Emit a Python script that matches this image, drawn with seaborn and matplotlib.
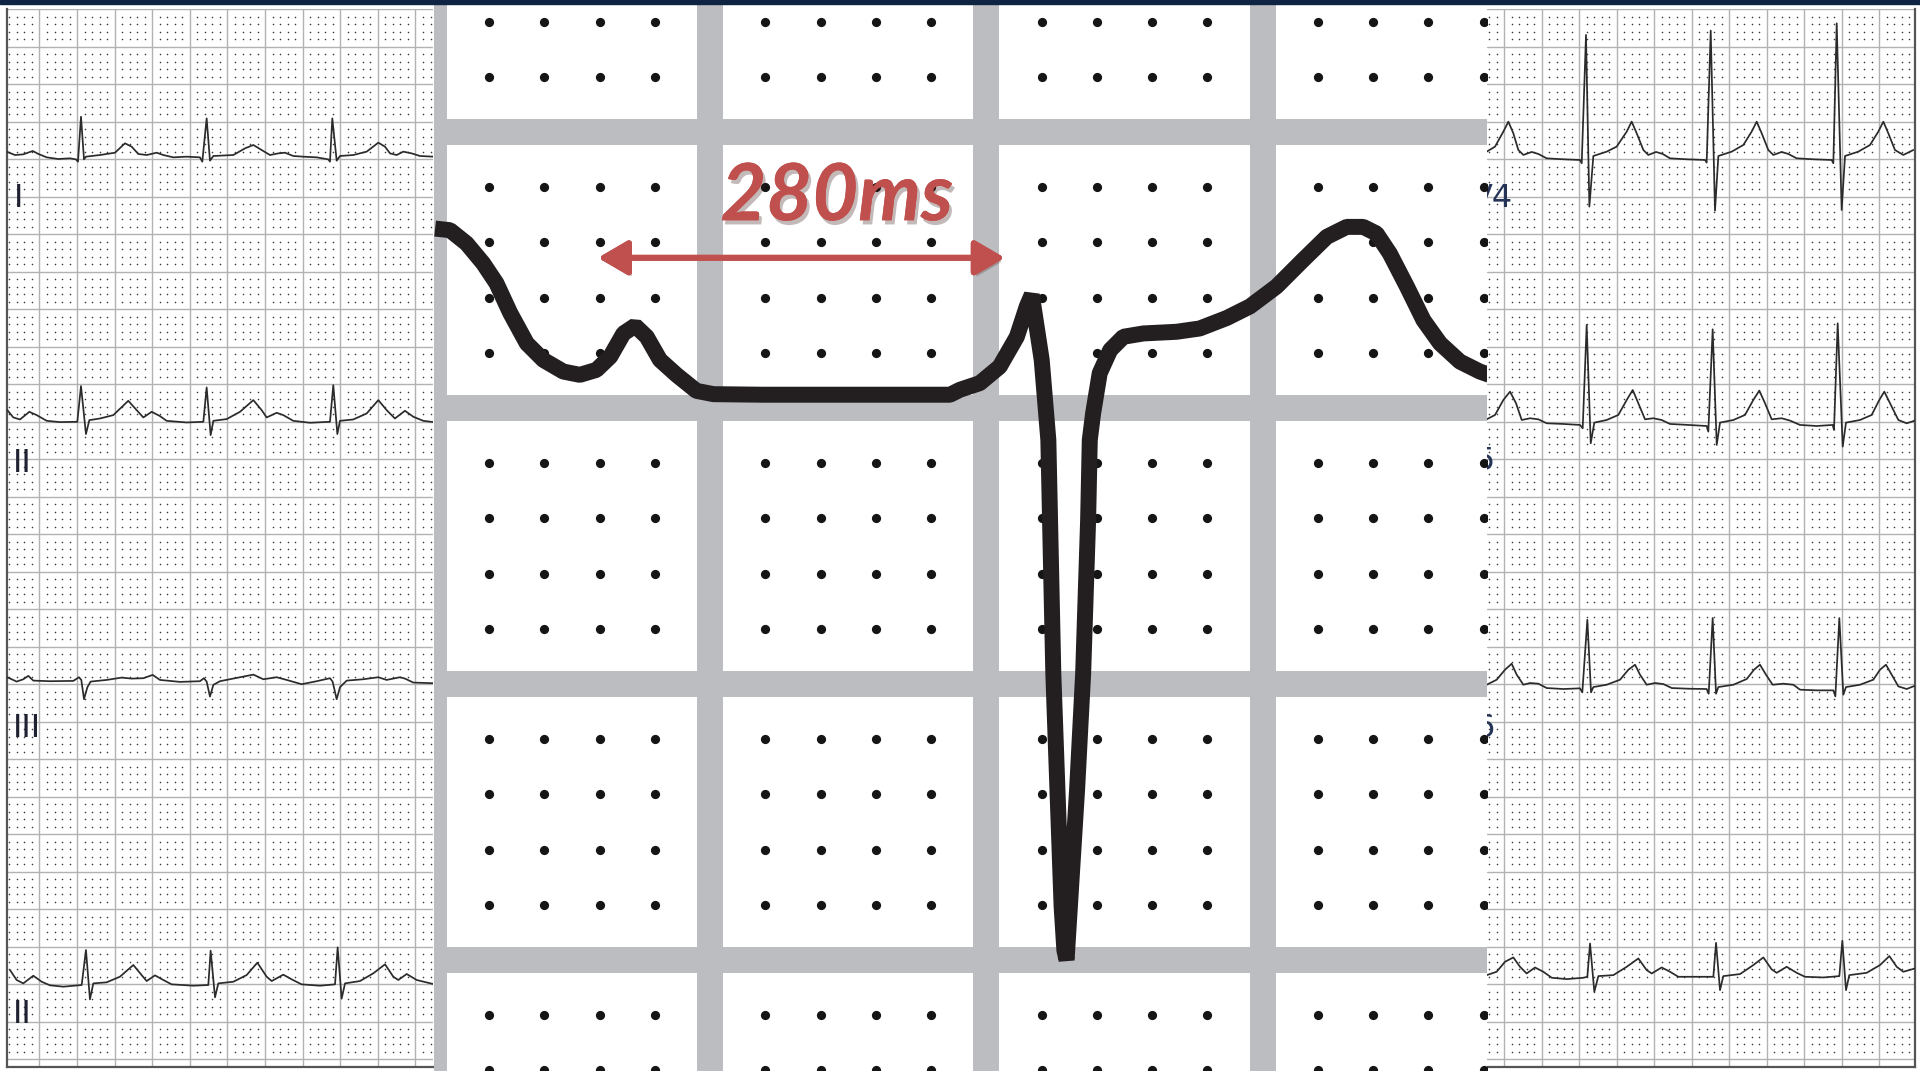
import numpy as np
import matplotlib.pyplot as plt
import matplotlib.patheffects as pe
from matplotlib.patches import Rectangle
import seaborn as sns

sns.set_style("white")
plt.rcParams["font.family"] = ["DejaVu Sans"]

# ---- traces: (time in mm, amplitude in mm above baseline) ----
lead_I = [(0.63, 0.67), (1.74, 0.22), (2.85, 0.31), (4.1, 0.76), (4.85, 0.36), (5.96, -0.09),
          (7.5, -0.31), (9.06, -0.22), (9.85, -0.36), (10.12, -0.67), (10.52, 5.33), (10.92, -0.36),
          (11.18, 0.0), (13.04, 0.22), (15.04, 0.53), (16.37, 1.78), (17.26, 1.33), (18.14, 0.36),
          (19.25, 0.22), (20.58, 0.53), (21.47, 0.22), (22.8, -0.09), (24.57, 0.0), (26.34, -0.09),
          (26.65, -0.67), (27.23, 5.11), (27.67, -0.53), (28.12, 0.09), (30.78, 0.22), (32.33, 1.11),
          (33.44, 1.56), (34.54, 0.89), (35.65, 0.22), (36.76, 0.44), (37.64, 0.53), (38.75, 0.09),
          (40.08, 0.0), (41.86, -0.09), (43.41, -0.36), (43.63, -0.67), (43.94, 5.11), (44.52, -0.53),
          (44.96, 0.09), (46.73, 0.22), (48.51, 0.67), (50.06, 1.87), (50.95, 1.33), (51.61, 0.44),
          (52.5, 0.22), (53.38, 0.67), (54.49, 0.44), (55.6, 0.09), (57.37, 0.0)]
lead_II = [(0.72, 1.56), (1.52, 0.58), (2.41, 0.31), (3.65, 1.33), (4.63, 0.89), (5.96, 0.13),
           (7.73, -0.04), (10.03, 0.0), (10.52, 4.76), (11.18, -1.64), (11.63, 0.22), (13.04, 0.44),
           (14.82, 0.89), (16.81, 2.8), (17.92, 1.56), (18.81, 0.58), (19.92, 1.33), (21.02, 0.76),
           (21.91, 0.13), (24.57, -0.09), (26.79, 0.0), (27.23, 4.58), (27.76, -1.78), (28.12, 0.13),
           (29.89, 0.36), (31.66, 1.33), (33.44, 2.89), (34.54, 1.56), (35.21, 0.58), (36.54, 1.2),
           (37.42, 0.89), (38.75, 0.13), (40.97, -0.13), (43.63, 0.0), (44.07, 4.89), (44.61, -1.64),
           (44.96, 0.13), (46.73, 0.31), (48.51, 1.11), (50.06, 2.89), (51.16, 1.56), (52.27, 0.44),
           (53.6, 1.47), (54.71, 0.67), (56.04, 0.13), (57.37, -0.04)]
lead_III = [(0.72, 0.49), (1.96, -0.09), (2.85, 0.22), (3.51, 0.67), (4.18, 0.04), (6.4, -0.04),
            (9.5, 0.0), (10.25, 0.49), (10.56, 0.13), (10.92, -2.44), (11.37, -0.84), (11.8, -0.09),
            (13.93, 0.13), (15.92, 0.44), (17.26, 0.31), (18.81, 0.36), (20.05, 0.8), (21.02, 0.13),
            (23.68, -0.13), (26.34, -0.04), (26.87, 0.36), (27.23, -0.09), (27.67, -2.09), (28.12, -0.53),
            (29.0, -0.04), (31.66, 0.49), (33.44, 0.84), (34.77, 0.22), (36.54, 0.49), (37.87, 0.13),
            (39.86, -0.44), (41.86, -0.04), (43.63, 0.36), (43.98, -0.09), (44.52, -2.44), (44.96, -0.84),
            (45.85, 0.04), (48.06, 0.22), (50.06, 0.49), (51.16, 0.13), (52.94, 0.49), (53.6, 0.31),
            (54.71, -0.22), (57.37, -0.31)]
lead_II_rhythm = [(1.08, 2.0), (1.96, 0.67), (2.85, 0.22), (4.18, 1.24), (5.29, 0.44), (6.4, -0.04),
                  (8.17, -0.22), (10.61, 0.0), (11.18, 4.67), (11.71, -1.91), (12.16, 0.22), (13.93, 0.36),
                  (15.7, 1.11), (17.48, 2.67), (18.58, 1.33), (19.25, 0.53), (20.36, 1.29), (21.47, 0.67),
                  (22.57, 0.09), (25.46, -0.09), (27.45, 0.0), (27.76, 4.58), (28.34, -1.64), (28.78, 0.22),
                  (30.78, 0.44), (32.55, 1.33), (33.97, 2.98), (35.21, 1.11), (35.88, 0.53), (37.42, 1.38),
                  (38.53, 0.76), (39.86, 0.09), (42.3, -0.09), (44.3, 0.09), (44.65, 5.02), (45.18, -1.82),
                  (45.63, 0.22), (47.62, 0.53), (49.39, 1.56), (50.95, 2.76), (52.05, 1.11), (52.72, 0.67),
                  (53.83, 1.47), (55.16, 0.67), (57.37, 0.13)]

lead_V4 = [(2.69, 1.02), (3.8, 1.69), (4.91, 3.69), (5.58, 5.02), (6.24, 3.47), (6.91, 1.24), (7.58, 0.58),
           (8.69, 0.98), (9.58, 0.71), (10.69, 0.13), (12.91, 0.0), (15.13, -0.09), (15.36, -0.53),
           (15.93, 16.58), (16.38, -6.31), (16.91, 0.44), (18.69, 1.02), (20.02, 1.69), (21.36, 3.69),
           (22.02, 5.02), (22.69, 3.47), (23.58, 1.24), (24.24, 0.58), (25.27, 0.98), (26.16, 0.71),
           (27.13, 0.13), (29.36, 0.0), (31.8, -0.09), (32.02, -0.44), (32.56, 17.16), (33.13, -6.84),
           (33.58, 0.44), (35.36, 1.02), (36.91, 1.91), (38.02, 3.69), (38.69, 5.02), (39.36, 3.47),
           (40.24, 1.24), (40.91, 0.58), (42.02, 0.98), (42.91, 0.71), (44.02, 0.13), (46.24, 0.0),
           (48.69, -0.09), (48.91, -0.53), (49.36, 18.13), (50.02, -6.76), (50.47, 0.44), (52.24, 1.02),
           (53.8, 1.91), (54.91, 3.69), (55.58, 5.02), (56.24, 3.47), (57.13, 1.24), (58.24, 0.58),
           (59.58, 1.24)]
lead_V5 = [(2.69, 0.53), (3.8, 1.11), (4.91, 3.11), (5.8, 4.22), (6.6, 2.67), (7.36, 0.44), (8.47, 0.67),
           (9.58, 0.53), (10.69, 0.0), (12.91, -0.09), (15.13, -0.22), (15.49, -0.67), (16.02, 13.11),
           (16.56, -2.67), (17.04, 0.09), (18.69, 0.44), (20.24, 1.11), (21.36, 3.11), (22.16, 4.44),
           (22.91, 2.67), (23.8, 0.53), (24.91, 0.67), (26.02, 0.44), (27.13, -0.09), (29.58, -0.22),
           (32.02, -0.36), (32.24, -1.11), (32.82, 12.53), (33.36, -2.89), (33.8, 0.09), (35.58, 0.44),
           (37.13, 1.11), (38.24, 3.11), (39.04, 4.36), (39.8, 2.67), (40.69, 0.53), (42.02, 0.67),
           (43.13, 0.36), (44.47, -0.22), (46.69, -0.36), (48.82, -0.22), (49.0, -0.89), (49.49, 13.33),
           (50.16, -3.11), (50.6, 0.09), (52.47, 0.44), (54.02, 1.11), (55.04, 3.11), (55.71, 4.22),
           (56.47, 2.67), (57.58, 0.44), (58.69, 0.0), (59.8, 0.36)]
lead_V6 = [(2.69, 0.44), (4.02, 1.11), (5.13, 2.44), (6.02, 3.24), (6.69, 1.78), (7.58, 0.44), (8.47, 0.67),
           (9.58, 0.58), (10.69, 0.0), (12.91, -0.13), (15.13, -0.04), (15.44, -0.58), (16.11, 9.11),
           (16.6, -0.58), (16.91, 0.13), (18.69, 0.44), (20.47, 1.11), (21.58, 2.44), (22.47, 3.11),
           (23.13, 1.78), (24.02, 0.44), (25.13, 0.67), (26.24, 0.53), (27.36, 0.0), (29.58, -0.09),
           (32.02, -0.13), (32.29, -0.76), (32.82, 9.33), (33.27, -0.76), (33.58, 0.13), (35.58, 0.44),
           (37.36, 1.2), (38.33, 2.44), (39.13, 3.11), (39.93, 1.78), (40.82, 0.44), (42.24, 0.58),
           (43.58, 0.44), (44.47, -0.22), (46.69, -0.31), (48.91, -0.31), (49.18, -1.11), (49.71, 9.33),
           (50.24, -0.89), (50.6, 0.13), (52.47, 0.44), (54.24, 1.11), (55.13, 2.44), (55.93, 3.11),
           (56.69, 1.78), (57.58, 0.22), (58.69, -0.13), (59.8, 0.31)]
lead_right_rhythm = [(2.69, 0.22), (4.02, 0.67), (5.13, 2.0), (6.24, 2.58), (7.13, 1.33), (8.02, 0.44),
                     (9.13, 1.24), (10.24, 0.67), (11.36, -0.13), (13.36, -0.31), (15.58, -0.13), (16.11, 0.0),
                     (16.47, 4.44), (17.04, -2.0), (17.58, 0.09), (19.58, 0.22), (21.36, 1.33), (22.91, 2.44),
                     (24.02, 0.89), (24.69, 0.44), (26.02, 1.24), (27.13, 0.67), (28.24, 0.0), (30.69, 0.0),
                     (32.91, 0.0), (33.27, 4.53), (33.8, -1.78), (34.24, 0.09), (36.47, 0.36), (38.24, 1.56),
                     (39.58, 2.58), (40.69, 0.98), (41.36, 0.53), (42.69, 1.33), (44.02, 0.53), (45.13, 0.0),
                     (47.58, -0.09), (49.71, 0.09), (50.11, 4.8), (50.6, -1.78), (51.04, 0.22), (53.36, 0.53),
                     (55.13, 1.56), (56.38, 2.76), (57.36, 1.33), (58.24, 0.67), (59.8, 1.11)]

# magnified complex (centre panel, mm of the enlarged paper)
zoom_trace = [(0.02, 3.01), (0.29, 2.98), (0.59, 2.74), (0.89, 2.38), (1.13, 2.02), (1.38, 1.48),
              (1.68, 0.93), (1.98, 0.63), (2.34, 0.42), (2.64, 0.36), (2.94, 0.45), (3.19, 0.69),
              (3.43, 1.11), (3.64, 1.25), (3.85, 1.05), (4.09, 0.63), (4.39, 0.36), (4.75, 0.07),
              (5.06, 0.01), (5.96, 0.0), (7.17, 0.0), (8.37, 0.0), (9.34, 0.0), (9.52, 0.09),
              (9.88, 0.21), (10.24, 0.51), (10.55, 1.05), (10.73, 1.6), (10.82, 1.81), (11.0, 0.63),
              (11.12, -0.82), (11.21, -5.05), (11.36, -9.27), (11.41, -10.06), (11.45, -10.24),
              (11.51, -9.27), (11.64, -7.16), (11.75, -5.05), (11.84, -2.27), (11.87, -0.82),
              (11.93, -0.34), (12.05, 0.39), (12.24, 0.81), (12.48, 1.05), (12.84, 1.11), (13.44, 1.14),
              (13.86, 1.2), (14.35, 1.39), (14.77, 1.6), (15.25, 1.96), (15.73, 2.44), (16.16, 2.86),
              (16.52, 3.04), (16.82, 3.04), (17.06, 2.92), (17.3, 2.56), (17.61, 1.96), (17.91, 1.35),
              (18.21, 0.93), (18.57, 0.6), (18.93, 0.42), (19.1, 0.36)]
interval_start, interval_end = 2.97, 10.33
interval_label = "280ms"

left_leads = [("I", lead_I), ("II", lead_II), ("III", lead_III), ("II", lead_II_rhythm)]
right_leads = [("V4", lead_V4), ("V5", lead_V5), ("V6", lead_V6), ("", lead_right_rhythm)]

# ---- layout ----
W, H = 1920, 1071
fig = plt.figure(figsize=(W / 100, H / 100), dpi=100)
fig.patch.set_facecolor("white")

GRID = "#b2b2b2"
BORDER = "#555555"
INK = "#2b2b2b"


def strip(ax, xlim, ylim, bases, leads, label_xy, label_ha, label_color):
    x0, x1 = xlim
    y0, y1 = ylim
    for gx in range(0, 61, 5):
        if x0 < gx < x1:
            ax.axvline(gx, color=GRID, lw=1.0, zorder=1)
    for gy in range(0, 141, 5):
        ax.axhline(gy, color=GRID, lw=1.0, zorder=1)
    dx = [5 * i + j for i in range(13) for j in range(1, 5) if x0 < 5 * i + j < x1]
    dy = [5 * m + n for m in range(-1, 28) for n in range(1, 5) if y0 < 5 * m + n < y1]
    gx, gy = np.meshgrid(dx, dy)
    ax.scatter(gx.ravel(), gy.ravel(), s=1.3, color="#3a3a3a", linewidths=0, zorder=1)
    for (name, pts), base, (lx, ly) in zip(leads, bases, label_xy):
        arr = np.array(pts)
        sns.lineplot(x=arr[:, 0], y=base + arr[:, 1], ax=ax, color=INK, lw=1.25,
                     sort=False, estimator=None, zorder=3)
        if name:
            ax.text(lx, ly, name, ha=label_ha, va="baseline", fontsize=23,
                    color=label_color, clip_on=False, zorder=4)
    ax.set_xlim(x0, x1)
    ax.set_ylim(y0, y1)
    ax.set_xticks([]); ax.set_yticks([])
    ax.set_xlabel(""); ax.set_ylabel("")


# left strip: limb leads
axL = fig.add_axes([7 / W, 4 / H, 426 / W, 1057.7 / H])
strip(axL, (0.68, 57.33), (-1.03, 140.0), [120.35, 85.0, 50.45, 9.9], left_leads,
      [(1.6, 113.6), (1.45, 78.3), (1.45, 42.95), (1.45, 4.85)], "left", "#1f2030")
for side in ["top", "right"]:
    axL.spines[side].set_visible(False)
axL.spines["left"].set_color(BORDER); axL.spines["left"].set_linewidth(1.6)
axL.spines["bottom"].set_color(BORDER); axL.spines["bottom"].set_linewidth(1.6)
axL.set_zorder(1)

# right strip: precordial leads
axR = fig.add_axes([1487 / W, 4 / H, 428 / W, 1057.7 / H])
strip(axR, (2.73, 59.8), (-1.03, 140.0), [120.0, 84.8, 49.5, 11.0], right_leads,
      [(6.2, 113.6), (3.95, 78.6), (3.95, 42.95), (0, 0)], "right", "#253456")
for side in ["top", "left"]:
    axR.spines[side].set_visible(False)
axR.spines["right"].set_color(BORDER); axR.spines["right"].set_linewidth(1.6)
axR.spines["bottom"].set_color(BORDER); axR.spines["bottom"].set_linewidth(1.6)
axR.set_zorder(1)

# centre: enlarged paper
axC = fig.add_axes([434 / W, 0, 1053 / W, 1])
axC.set_facecolor("white")
axC.set_zorder(3)
BAND = "#bcbdc1"
for b in [0, 5, 10, 15]:
    axC.axvline(b, color=BAND, lw=18.7, zorder=1)
for b in [-5, 0, 5, 10]:
    axC.axhline(b, color=BAND, lw=18.7, zorder=1)
cdx = [5 * i + j for i in range(4) for j in range(1, 5)]
cdy = [5 * m + n for m in range(-2, 3) for n in range(1, 5)]
cx, cy = np.meshgrid(cdx, cdy)
axC.scatter(cx.ravel(), cy.ravel(), s=44, color="#151515", linewidths=0, zorder=2)

zt = np.array(zoom_trace)
sns.lineplot(x=zt[:, 0], y=5.24 + zt[:, 1], ax=axC, color="#231f20", lw=11.5,
             sort=False, estimator=None, zorder=4)
for ln in axC.get_lines()[-1:]:
    ln.set_solid_joinstyle("bevel")
    ln.set_solid_capstyle("butt")

red = "#c0504d"
arr = axC.annotate("", xy=(interval_end, 7.72), xytext=(interval_start, 7.72),
                   arrowprops=dict(arrowstyle="<|-|>,head_length=0.6,head_width=0.35",
                                   color=red, lw=4.3, shrinkA=0, shrinkB=0,
                                   mutation_scale=30), zorder=5)
arr.arrow_patch.set_path_effects([pe.withSimplePatchShadow(offset=(2, -3), alpha=0.25),
                                  pe.Normal()])
axC.text((interval_start + interval_end) / 2 + 0.64, 8.4, interval_label,
         ha="center", va="baseline", fontsize=57, fontweight="bold", style="italic",
         color=red, family=["Lato", "Open Sans", "DejaVu Sans"], zorder=6,
         path_effects=[pe.withSimplePatchShadow(offset=(2, -3), alpha=0.3), pe.Normal()])

axC.set_xlim(0, 19.06)
axC.set_ylim(-7.01, 12.39)
axC.set_xticks([]); axC.set_yticks([])
axC.set_xlabel(""); axC.set_ylabel("")
for s in axC.spines.values():
    s.set_visible(False)

fig.add_artist(Rectangle((0, 1 - 4 / H), 1, 4 / H, transform=fig.transFigure,
                         color="#0f2342", zorder=10))

fig.savefig("out.png", dpi=100)
plt.close(fig)
